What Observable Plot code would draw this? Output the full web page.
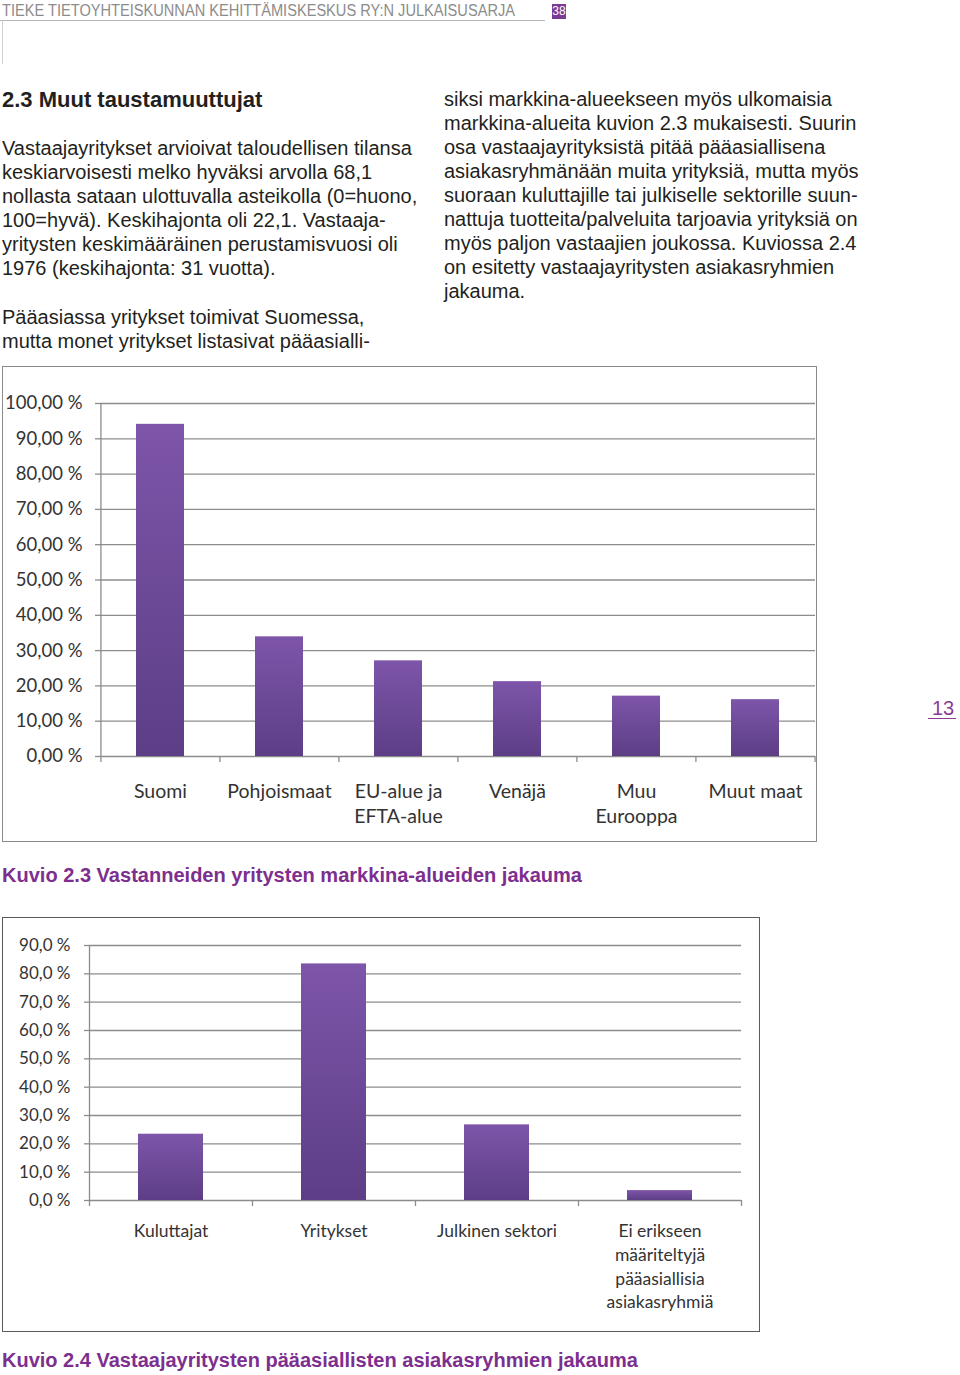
<!DOCTYPE html>
<html><head><meta charset="utf-8">
<script src="https://cdn.jsdelivr.net/npm/d3@7"></script>
<script src="https://cdn.jsdelivr.net/npm/@observablehq/plot@0.6"></script>
<style>
body{margin:0;background:#fff;}
#page{position:relative;width:960px;height:1375px;overflow:hidden;font-family:"Liberation Sans",Arial,sans-serif;color:#231f20;}
.abs{position:absolute;white-space:nowrap;}
.para{position:absolute;font-size:20px;line-height:24px;white-space:pre;}
.box{position:absolute;border:1px solid #8a8a8a;background:#fff;}
.box svg{display:block;}
</style></head><body><div id="page"></div>
<script>
// ---------- data ----------
const headerText = "TIEKE TIETOYHTEISKUNNAN KEHITTÄMISKESKUS RY:N JULKAISUSARJA";
const pageTag = "38";
const pageNumber = "13";
const heading = "2.3 Muut taustamuuttujat";
const leftPara1 = ["Vastaajayritykset arvioivat taloudellisen tilansa","keskiarvoisesti melko hyväksi arvolla 68,1","nollasta sataan ulottuvalla asteikolla (0=huono,","100=hyvä). Keskihajonta oli 22,1. Vastaaja-","yritysten keskimääräinen perustamisvuosi oli","1976 (keskihajonta: 31 vuotta)."];
const leftPara2 = ["Pääasiassa yritykset toimivat Suomessa,","mutta monet yritykset listasivat pääasialli-"];
const rightPara = ["siksi markkina-alueekseen myös ulkomaisia","markkina-alueita kuvion 2.3 mukaisesti. Suurin","osa vastaajayrityksistä pitää pääasiallisena","asiakasryhmänään muita yrityksiä, mutta myös","suoraan kuluttajille tai julkiselle sektorille suun-","nattuja tuotteita/palveluita tarjoavia yrityksiä on","myös paljon vastaajien joukossa. Kuviossa 2.4","on esitetty vastaajayritysten asiakasryhmien","jakauma."];
const caption1 = "Kuvio 2.3 Vastanneiden yritysten markkina-alueiden jakauma";
const caption2 = "Kuvio 2.4 Vastaajayritysten pääasiallisten asiakasryhmien jakauma";

const regions = ["Suomi","Pohjoismaat","EU-alue ja EFTA-alue","Venäjä","Muu Eurooppa","Muut maat"];
const regionLabels = ["Suomi","Pohjoismaat","EU-alue ja\nEFTA-alue","Venäjä","Muu\nEurooppa","Muut maat"];
const regionShares = [94.1, 33.9, 27.1, 21.2, 17.1, 16.1];
const regionTicks = [0,10,20,30,40,50,60,70,80,90,100];

const groups = ["Kuluttajat","Yritykset","Julkinen sektori","Ei erikseen määriteltyjä pääasiallisia asiakasryhmiä"];
const groupLabels = ["Kuluttajat","Yritykset","Julkinen sektori","Ei erikseen\nmääriteltyjä\npääasiallisia\nasiakasryhmiä"];
const groupShares = [23.4, 83.5, 26.7, 3.5];
const groupTicks = [0,10,20,30,40,50,60,70,80,90];

// ---------- page ----------
const page = document.getElementById("page");
function add(html, style, cls="abs"){
  const d = document.createElement("div");
  d.className = cls; d.innerHTML = html; Object.assign(d.style, style);
  page.appendChild(d); return d;
}
function fit(el, w){
  const r = el.getBoundingClientRect().width;
  if (r > 0) { el.style.transformOrigin = "left center"; el.style.transform = `scaleX(${w / r})`; }
}
function esc(s){return s.replace(/&/g,"&amp;").replace(/</g,"&lt;");}

const hdr = add(esc(headerText), {left:"2px", top:"1px", fontSize:"16px", lineHeight:"20px", color:"#8c8c8c"});
fit(hdr, 513);
add("", {left:"0px", top:"20px", width:"545px", height:"1px", background:"#b4b4b4"});
add(pageTag, {left:"552px", top:"4px", width:"14px", height:"15px", background:"#7b3a93", color:"#fff", fontSize:"12px", lineHeight:"15px", textAlign:"center"});
add("", {left:"2px", top:"20px", width:"1px", height:"44px", background:"#cfcfcf"});

add(esc(heading), {left:"2px", top:"87px", fontSize:"22px", lineHeight:"26px", fontWeight:"bold", color:"#231f20"});
add(leftPara1.map(esc).join("\n"), {left:"2px", top:"136px"}, "para");
add(leftPara2.map(esc).join("\n"), {left:"2px", top:"305px"}, "para");
add(rightPara.map(esc).join("\n"), {left:"444px", top:"87px"}, "para");

const c1 = add(esc(caption1), {left:"2px", top:"863px", fontSize:"20px", lineHeight:"24px", fontWeight:"bold", color:"#7d2f8f"});
fit(c1, 580);
const c2 = add(esc(caption2), {left:"2px", top:"1348px", fontSize:"20px", lineHeight:"24px", fontWeight:"bold", color:"#7d2f8f"});
fit(c2, 636);
add(pageNumber, {left:"932px", top:"697px", fontSize:"20px", lineHeight:"22px", color:"#8b3b95"});
add("", {left:"928px", top:"718px", width:"28px", height:"1px", background:"#8b3b95"});

// ---------- charts ----------
function barChart(o){
  const {cats, labels, values, ticks, fmt, width, height, ml, mt, mr, mb, fontSize, tickFont, labelDy, lineHeight, gradId} = o;
  const n = cats.length;
  const step = (width - ml - mr) / n;
  const ymax = ticks[ticks.length - 1];
  const perUnit = (height - mt - mb) / ymax;
  const tickLen = 6 / perUnit;
  const data = cats.map((c, i) => ({cat: c, label: labels[i], value: values[i]}));
  const svg = Plot.plot({
    width, height, marginLeft: ml, marginTop: mt, marginRight: mr, marginBottom: mb,
    style: {fontFamily: "Lato, 'Open Sans', sans-serif", fontSize: tickFont + "px", color: "#333", background: "transparent", overflow: "visible"},
    x: {domain: cats, paddingInner: 0.6, paddingOuter: 0.3, axis: null},
    y: {domain: [0, ymax], axis: null},
    marks: [
      Plot.ruleY(ticks, {stroke: "#8c8c8c", strokeWidth: 1.3}),
      Plot.axisY({ticks, tickFormat: fmt, label: null, tickSize: 5, tickPadding: o.tickPad, stroke: "#8c8c8c", strokeWidth: 1.3, fill: "#333", fontSize: tickFont}),
      Plot.ruleX([cats[0]], {dx: -step / 2, y1: 0, y2: ymax, stroke: "#8c8c8c", strokeWidth: 1.3}),
      Plot.ruleX(cats, {dx: -step / 2, y1: 0, y2: -tickLen, stroke: "#8c8c8c", strokeWidth: 1.3}),
      Plot.ruleX([cats[n - 1]], {dx: step / 2, y1: 0, y2: -tickLen, stroke: "#8c8c8c", strokeWidth: 1.3}),
      Plot.barY(data, {x: "cat", y: "value", fill: `url(#${gradId})`}),
      Plot.text(data, {x: "cat", y: 0, text: "label", dy: labelDy, lineAnchor: "top", lineHeight, fontSize, fill: "#333"})
    ]
  });
  const ns = "http://www.w3.org/2000/svg";
  const defs = document.createElementNS(ns, "defs");
  const g = document.createElementNS(ns, "linearGradient");
  g.setAttribute("id", gradId); g.setAttribute("x1", "0"); g.setAttribute("y1", "0"); g.setAttribute("x2", "0"); g.setAttribute("y2", "1");
  [["0", "#7d55a9"], ["1", "#5d3e86"]].forEach(([off, col]) => {
    const s = document.createElementNS(ns, "stop"); s.setAttribute("offset", off); s.setAttribute("stop-color", col); g.appendChild(s);
  });
  defs.appendChild(g); svg.insertBefore(defs, svg.firstChild);
  return svg;
}

const fmt2 = d => d.toFixed(2).replace(".", ",") + " %";
const fmt1 = d => d.toFixed(1).replace(".", ",") + " %";

const box1 = add("", {left:"2px", top:"366px", width:"813px", height:"474px"}, "box");
box1.appendChild(barChart({cats: regions, labels: regionLabels, values: regionShares, ticks: regionTicks, fmt: fmt2,
  width: 813, height: 474, ml: 97, mt: 36, mr: 1, mb: 85, fontSize: 19.5, tickFont: 18.5, tickPad: 13, labelDy: 23, lineHeight: 1.3, gradId: "grad1"}));

const box2 = add("", {left:"2px", top:"917px", width:"756px", height:"413px", borderColor:"#5a5a5a"}, "box");
box2.appendChild(barChart({cats: groups, labels: groupLabels, values: groupShares, ticks: groupTicks, fmt: fmt1,
  width: 756, height: 413, ml: 86, mt: 27, mr: 18, mb: 131, fontSize: 17.5, tickFont: 17, tickPad: 14, labelDy: 20, lineHeight: 1.35, gradId: "grad2"}));
</script></body></html>
